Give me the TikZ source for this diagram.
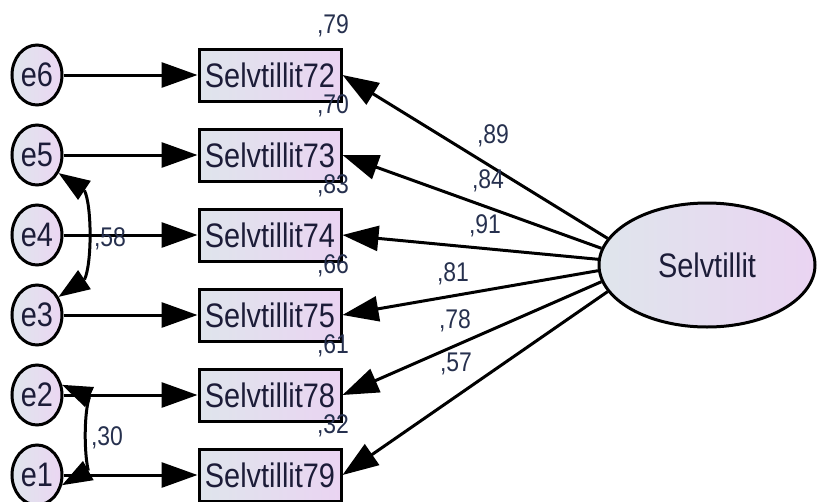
\documentclass[tikz,border=0pt]{standalone}
\usepackage{fontspec}
\setmainfont{Liberation Sans}[FakeStretch=0.85]
\usetikzlibrary{arrows.meta,shapes.geometric,calc}
\definecolor{txt}{HTML}{1C1C38}
\definecolor{lbl}{HTML}{26304E}
\definecolor{lft}{HTML}{DFE5EC}
\definecolor{rgt}{HTML}{EAD4F2}
\tikzset{
  big/.style={font=\fontsize{34}{34}\selectfont, text=txt},
  var/.style={big, draw=black, line width=3pt, rectangle, minimum width=142pt, minimum height=52pt, inner sep=0pt, left color=lft, right color=rgt},
  err/.style={big, draw=black, line width=3pt, ellipse, minimum width=50pt, minimum height=60pt, inner sep=0pt, left color=lft, right color=rgt!95!white},
  lat/.style={big, draw=black, line width=3pt, ellipse, minimum width=216pt, minimum height=124pt, inner sep=0pt, left color=lft, right color=rgt},
  wlabel/.style={font=\fontsize{27}{27}\selectfont, text=lbl, anchor=base, inner sep=0pt},
  arr/.style={line width=3pt, -{Triangle[length=36pt,width=25pt]}},
  cline/.style={line width=3pt},
  chead/.style={fill=black},
}
\begin{document}
\begin{tikzpicture}[x=1pt,y=-1pt]
\useasboundingbox (0,0) rectangle (817,501);
% latent
\node[lat] (S) at (707,265) {Selvtillit};
% observed
\node[var] (b72) at (270,75) {Selvtillit72};
\node[var] (b73) at (270,155) {Selvtillit73};
\node[var] (b74) at (270,235) {Selvtillit74};
\node[var] (b75) at (270,315) {Selvtillit75};
\node[var] (b78) at (270,395) {Selvtillit78};
\node[var] (b79) at (270,475) {Selvtillit79};
% errors
\node[err] (e6) at (37,75) {e6};
\node[err] (e5) at (37,155) {e5};
\node[err] (e4) at (37,235) {e4};
\node[err] (e3) at (37,315) {e3};
\node[err] (e2) at (37,395) {e2};
\node[err] (e1) at (37,475) {e1};
% error arrows
\draw[arr] (e6) -- (b72);
\draw[arr] (e5) -- (b73);
\draw[arr] (e4) -- (b74);
\draw[arr] (e3) -- (b75);
\draw[arr] (e2) -- (b78);
\draw[arr] (e1) -- (b79);
% loadings
\draw[arr] (S.165) -- (b72.east);
\draw[arr] (S.171) -- (b73.east);
\draw[arr] (S.177) -- (b74.east);
\draw[arr] (S.183) -- (b75.east);
\draw[arr] (S.189) -- (b78.east);
\draw[arr] (S.195) -- (b79.east);
% covariances: tips on the error nodes, bases along the given directions
\coordinate (t5) at (e5.-40);
\coordinate (t3) at (e3.40);
\coordinate (t2) at (e2.22);
\coordinate (t1) at (e1.-22);
\coordinate (d5) at ($(t5)+(27,18)$);
\coordinate (d3) at ($(t3)+(27,-18)$);
\coordinate (d2) at ($(t2)+(27,12)$);
\coordinate (d1) at ($(t1)+(27,-15)$);
\coordinate (c5) at ($(t5)!31pt!(d5)$);
\coordinate (c3) at ($(t3)!31pt!(d3)$);
\coordinate (c2) at ($(t2)!30pt!(d2)$);
\coordinate (c1) at ($(t1)!30pt!(d1)$);
\draw[cline] (c5) .. controls (92,206) and (92,264) .. (c3);
\draw[cline] (c2) .. controls (84,412) and (84,453) .. (c1);
\fill[chead] (t5) -- ($(c5)!11.5pt!90:(t5)$) -- ($(c5)!11.5pt!-90:(t5)$) -- cycle;
\fill[chead] (t3) -- ($(c3)!11.5pt!90:(t3)$) -- ($(c3)!11.5pt!-90:(t3)$) -- cycle;
\fill[chead] (t2) -- ($(c2)!11pt!90:(t2)$) -- ($(c2)!11pt!-90:(t2)$) -- cycle;
\fill[chead] (t1) -- ($(c1)!11pt!90:(t1)$) -- ($(c1)!11pt!-90:(t1)$) -- cycle;
% squared multiple correlations
\node[wlabel] (r72) at (333,33) {,79};
\node[wlabel] (r73) at (333,113) {,70};
\node[wlabel] (r74) at (333,193) {,83};
\node[wlabel] (r75) at (333,273) {,66};
\node[wlabel] (r78) at (333,353) {,61};
\node[wlabel] (r79) at (333,433) {,32};
% loading labels
\node[wlabel] (l72) at (493,143) {,89};
\node[wlabel] (l73) at (488,188) {,84};
\node[wlabel] (l74) at (485,233) {,91};
\node[wlabel] (l75) at (453,281) {,81};
\node[wlabel] (l78) at (455,328) {,78};
\node[wlabel] (l79) at (456,371) {,57};
% covariance labels
\node[wlabel] (c53) at (110,246) {,58};
\node[wlabel] (c21) at (107,445) {,30};
\end{tikzpicture}
\end{document}
